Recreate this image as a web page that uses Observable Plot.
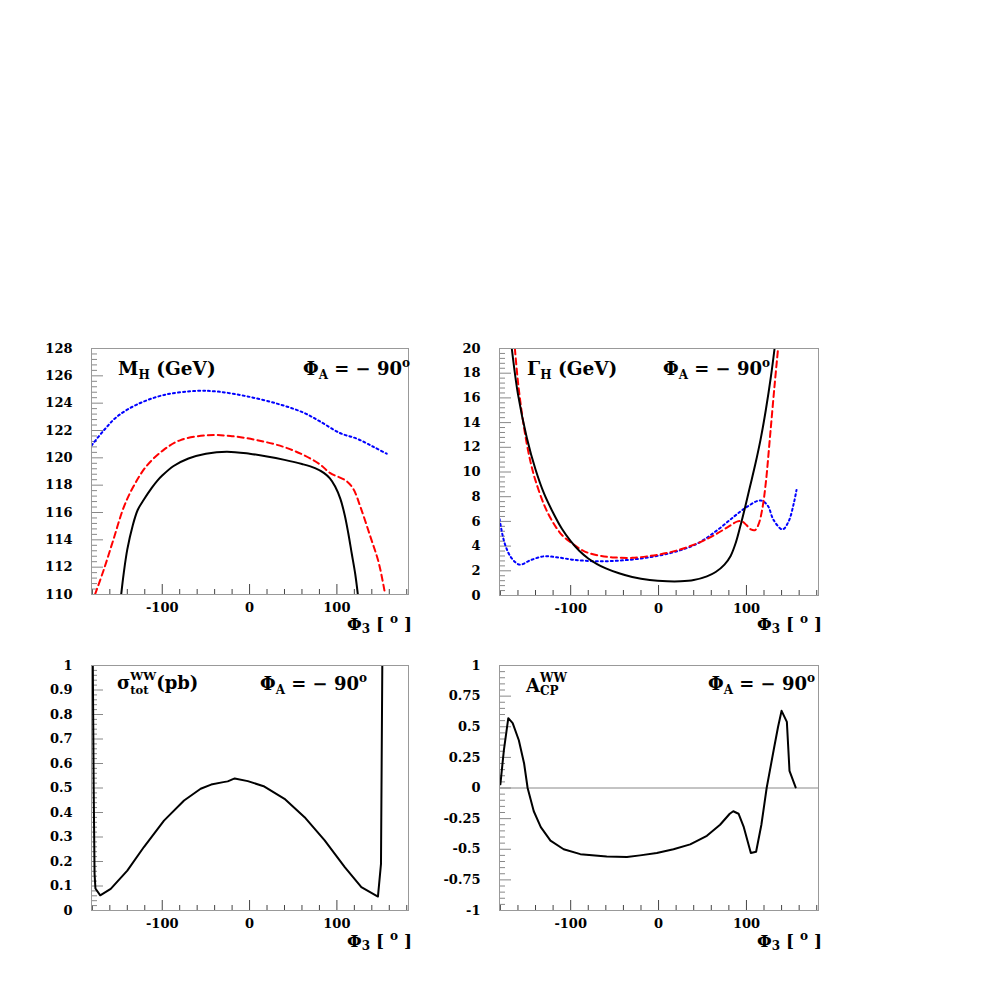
<!DOCTYPE html>
<html><head><meta charset="utf-8">
<script src="https://cdn.jsdelivr.net/npm/d3@7"></script>
<script src="https://cdn.jsdelivr.net/npm/@observablehq/plot@0.6"></script>
<style>
body{margin:0;background:#fff;}
#wrap{position:relative;width:981px;height:981px;background:#fff;overflow:hidden;}
#wrap svg{position:absolute;}
</style></head><body><div id="wrap"></div>
<script>
// ---------- shared axis values ----------
const xDomain = [-181, 182];
const xMajor = [-100, 0, 100];
const xMinor = [-180,-160,-140,-120,-80,-60,-40,-20,20,40,60,80,120,140,160,180];

// ---------- panel 1 : M_H ----------
const massTicks = [110,112,114,116,118,120,122,124,126,128];
const massPhiBlue = [-181,-167,-152,-129,-98,-60,-37,-3,35,62,81,104,123,142,157];
const massBlue    = [120.9,122.0,123.0,123.9,124.6,124.9,124.85,124.5,123.9,123.3,122.65,121.8,121.4,120.8,120.3];
const massPhiRed  = [-177,-167,-156,-144,-133,-118,-98,-79,-49,-22,8,39,62,81,92,111,119,127,138,148,155];
const massRed     = [110.0,111.8,114.0,116.4,117.9,119.4,120.6,121.3,121.65,121.6,121.3,120.8,120.2,119.5,118.9,118.3,117.7,116.4,114.3,112.3,110.1];
const massPhiBlack= [-147,-144,-140,-134,-128,-121,-112,-106,-100,-87,-70,-50,-26,0,20,40,60,75,85,92,98,104,109,113,117,121,124];
const massBlack   = [110,111.6,113.3,115.0,116.2,116.95,117.8,118.3,118.7,119.4,119.95,120.3,120.45,120.3,120.1,119.85,119.55,119.25,118.9,118.5,117.9,117.0,115.8,114.5,113.0,111.5,110];

// ---------- panel 2 : Gamma_H ----------
const widthTicks = [0,2,4,6,8,10,12,14,16,18,20];
const widthPhiBlack = [-167,-160,-150,-140,-130,-120,-110,-100,-90,-80,-70,-60,-45,-30,-10,10,25,40,55,65,75,82,88,93,98,104,110,116,122,128,132];
const widthBlack    = [20,16.3,12.8,10.2,8.2,6.7,5.4,4.4,3.6,3.0,2.55,2.2,1.8,1.5,1.25,1.15,1.15,1.25,1.55,1.9,2.5,3.2,4.3,5.6,7.0,8.8,10.6,12.6,15.0,17.8,20];
const widthPhiRed   = [-163.5,-160,-155,-150,-145,-140,-130,-120,-110,-100,-90,-80,-65,-50,-30,-10,10,30,50,65,80,90,95,100,105,110,114,118,122,127,132,136];
const widthRed      = [20,17.3,14.5,12.3,10.6,9.3,7.3,5.9,4.9,4.3,3.8,3.45,3.2,3.08,3.05,3.2,3.45,3.85,4.4,4.95,5.6,6.0,6.0,5.7,5.35,5.3,5.8,7.0,9.1,13,17,20];
const widthPhiBlue  = [-181,-175,-167,-158,-146,-131,-116,-97,-70,-40,-10,17,44,67,86,101,116,124,131,141,148,154,157];
const widthBlue     = [6.2,4.2,3.0,2.5,2.85,3.17,3.1,2.9,2.77,2.85,3.1,3.5,4.2,5.3,6.4,7.2,7.7,7.3,6.1,5.35,6.0,7.5,8.55];

// ---------- panel 3 : sigma_tot ----------
const sigmaTicks = [0,0.1,0.2,0.3,0.4,0.5,0.6,0.7,0.8,0.9,1];
const sigmaPhi = [-179.5,-178.5,-177.5,-176.5,-171,-159,-140,-121,-98,-75,-56,-44,-30,-25,-21,-17,-2,17,40,63,86,109,128,147,150.5,152];
const sigma    = [1.0,0.5,0.15,0.09,0.062,0.088,0.163,0.259,0.367,0.449,0.497,0.514,0.524,0.527,0.533,0.539,0.528,0.506,0.456,0.381,0.286,0.177,0.095,0.057,0.19,1.0];

// ---------- panel 4 : A_CP ----------
const acpTicks = [-1,-0.75,-0.5,-0.25,0,0.25,0.5,0.75,1];
const acpPhi = [-180,-176,-171,-166,-159,-153,-149,-142,-134,-123,-108,-89,-59,-36,-21,-2,17,36,55,70,81,85,91,97,105,111,117,123,131,136,140,146,149,156];
const acp    = [0.03,0.31,0.57,0.53,0.39,0.20,0,-0.19,-0.32,-0.43,-0.50,-0.54,-0.56,-0.564,-0.55,-0.53,-0.50,-0.46,-0.39,-0.30,-0.21,-0.19,-0.21,-0.32,-0.53,-0.52,-0.30,0,0.31,0.50,0.63,0.54,0.14,0.005];

const FONT = "DejaVu Serif";
const wrap = document.getElementById("wrap");
const ctx = document.createElement("canvas").getContext("2d");
function mw(t, s){ ctx.font = `bold ${s}px "${FONT}"`; return ctx.measureText(t).width; }

function pts(xs, ys){ return xs.map((x,i)=>({x, y: ys[i]})); }

function minorTicks(major, n){
  const out = [];
  for (let i=0;i<major.length-1;i++){
    const a = major[i], b = major[i+1];
    for (let k=1;k<n;k++) out.push(a + (b-a)*k/n);
  }
  return out;
}

function rich(svg, x, y, parts, size){
  const text = d3.select(svg).append("text")
    .attr("x", x).attr("y", y).attr("text-anchor","start")
    .attr("font-family", FONT).attr("font-weight","bold").attr("font-size", size)
    .attr("fill","#000").style("white-space","pre");
  let prevDy = 0, prevW = 0, pending = 0;
  for (const p of parts){
    const s = p.s || size, dy = p.dy || 0;
    const ts = text.append("tspan").attr("font-size", s).attr("dy", dy - prevDy).text(p.t);
    const w = mw(p.t, s);
    if (p.stack){ ts.attr("dx", -prevW); pending = Math.max(0, prevW - w); }
    else if (pending){ ts.attr("dx", pending); pending = 0; }
    prevDy = dy; prevW = w;
  }
}

function panel(cfg){
  const fw = cfg.width - cfg.mL - cfg.mR;
  const fh = cfg.height - cfg.mT - cfg.mB;
  const marks = [];
  if (cfg.zero) marks.push(Plot.ruleY([0], {stroke:"#888", strokeWidth:1}));
  marks.push(Plot.tickX(xMinor, {x: d=>d, stroke:"#444", insetTop: fh-5}));
  marks.push(Plot.tickX(xMajor, {x: d=>d, stroke:"#444", insetTop: fh-10}));
  marks.push(Plot.tickY(minorTicks(cfg.yTicks, 5), {y: d=>d, stroke:"#888", insetRight: fw-6}));
  marks.push(Plot.tickY(cfg.yTicks, {y: d=>d, stroke:"#888", insetRight: fw-12}));
  for (const s of cfg.series){
    marks.push(Plot.line(s.data, {x:"x", y:"y", stroke:s.color, strokeWidth:2,
      strokeDasharray: s.dash, curve: s.curve || "linear", clip:true}));
  }
  marks.push(Plot.frame({stroke:"#999", strokeWidth:1}));
  marks.push(Plot.axisX(xMajor, {tickSize:0, tickPadding:8, tickFormat:d=>String(d), label:null}));
  marks.push(Plot.axisY(cfg.yTicks, {tickSize:0, tickPadding:19, tickFormat:d=>String(d), label:null}));
  const svg = Plot.plot({
    width: cfg.width, height: cfg.height,
    marginLeft: cfg.mL, marginRight: cfg.mR, marginTop: cfg.mT, marginBottom: cfg.mB,
    x: {domain: xDomain, label: null},
    y: {domain: cfg.yDomain, label: null},
    style: {fontFamily: FONT, fontWeight: "bold", fontSize: "13px", background: "transparent", overflow: "visible", color:"#000"},
    marks
  });
  svg.style.left = cfg.left + "px";
  svg.style.top = cfg.top + "px";
  wrap.appendChild(svg);
  for (const t of cfg.texts) rich(svg, t.x - cfg.left, t.y - cfg.top, t.parts, t.size || 18);
  return svg;
}

const phiA = [{t:"Φ"},{t:"A",s:12,dy:4},{t:" = − 90"},{t:"o",s:12,dy:-8}];
const phi3 = [{t:"Φ"},{t:"3",s:12,dy:3},{t:" [ "},{t:"o",s:12,dy:-7},{t:" ]"}];

panel({left:0, top:330, width:435, height:320, mL:91, mR:27, mT:18, mB:56,
  yDomain:[110,128], yTicks: massTicks,
  series:[
    {data: pts(massPhiBlue, massBlue), color:"#0000ff", dash:"2,3", curve:"catmull-rom"},
    {data: pts(massPhiRed, massRed), color:"#ff0000", dash:"6,4", curve:"catmull-rom"},
    {data: pts(massPhiBlack, massBlack), color:"#000", curve:"catmull-rom"}
  ],
  texts:[
    {x:118, y:375, parts:[{t:"M"},{t:"H",s:12,dy:4},{t:" (GeV)"}], size:18.5},
    {x:303, y:375, parts: phiA},
    {x:347, y:630, parts: phi3, size:17}
  ]});

panel({left:435, top:330, width:440, height:320, mL:64, mR:57, mT:18, mB:55,
  yDomain:[0,20], yTicks: widthTicks,
  series:[
    {data: pts(widthPhiBlue, widthBlue), color:"#0000ff", dash:"2,3", curve:"catmull-rom"},
    {data: pts(widthPhiRed, widthRed), color:"#ff0000", dash:"6,4", curve:"catmull-rom"},
    {data: pts(widthPhiBlack, widthBlack), color:"#000", curve:"catmull-rom"}
  ],
  texts:[
    {x:527, y:375, parts:[{t:"Γ"},{t:"H",s:12,dy:4},{t:" (GeV)"}], size:18.5},
    {x:663, y:375, parts: phiA},
    {x:757, y:630, parts: phi3, size:17}
  ]});

panel({left:0, top:650, width:435, height:310, mL:91, mR:27, mT:15, mB:50,
  yDomain:[0,1], yTicks: sigmaTicks,
  series:[{data: pts(sigmaPhi, sigma), color:"#000"}],
  texts:[
    {x:117, y:689, parts:[{t:"σ"},{t:"WW",s:11.5,dy:-9},{t:"tot",s:11.5,dy:5,stack:true},{t:"(pb)"}]},
    {x:260, y:690, parts: phiA},
    {x:347, y:947, parts: phi3, size:17}
  ]});

panel({left:435, top:650, width:440, height:310, mL:64, mR:57, mT:15, mB:50,
  yDomain:[-1,1], yTicks: acpTicks, zero:true,
  series:[{data: pts(acpPhi, acp), color:"#000"}],
  texts:[
    {x:526, y:692, parts:[{t:"A"},{t:"WW",s:12,dy:-10},{t:"CP",s:12,dy:3,stack:true}]},
    {x:708, y:690, parts: phiA},
    {x:757, y:947, parts: phi3, size:17}
  ]});
</script>
</body></html>
